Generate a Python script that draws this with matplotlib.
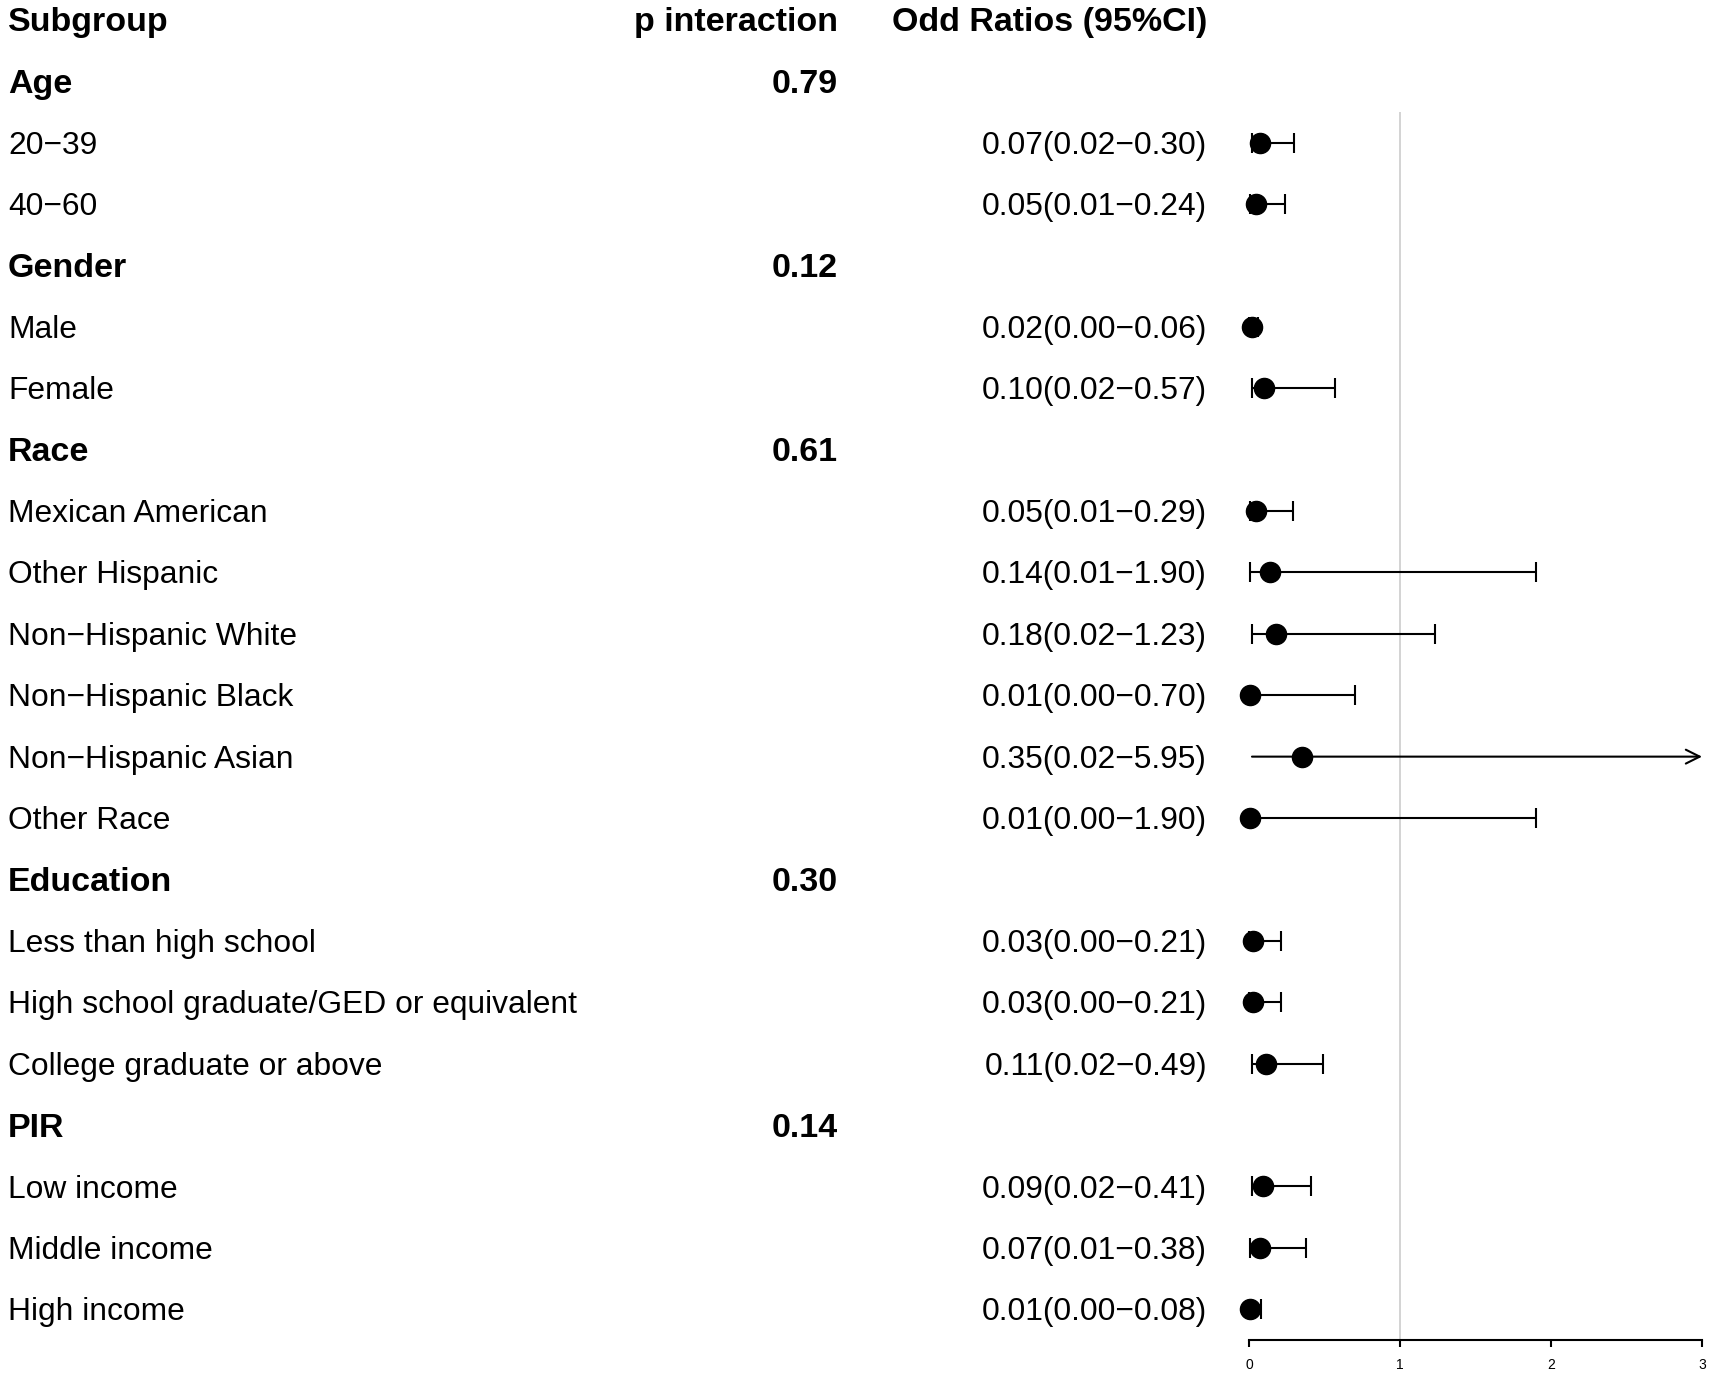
import matplotlib
matplotlib.use("Agg")
import matplotlib.pyplot as plt
from matplotlib.transforms import blended_transform_factory

plt.rcParams["font.family"] = ["Liberation Sans", "DejaVu Sans"]

# data
group_names = ["Age", "Gender", "Race", "Education", "PIR"]
p_interaction = ["0.79", "0.12", "0.61", "0.30", "0.14"]
sub_labels = [
    ["20\u221239", "40\u221260"],
    ["Male", "Female"],
    ["Mexican American", "Other Hispanic", "Non\u2212Hispanic White",
     "Non\u2212Hispanic Black", "Non\u2212Hispanic Asian", "Other Race"],
    ["Less than high school", "High school graduate/GED or equivalent",
     "College graduate or above"],
    ["Low income", "Middle income", "High income"],
]
odds = [[0.07, 0.05], [0.02, 0.10], [0.05, 0.14, 0.18, 0.01, 0.35, 0.01],
        [0.03, 0.03, 0.11], [0.09, 0.07, 0.01]]
ci_low = [[0.02, 0.01], [0.00, 0.02], [0.01, 0.01, 0.02, 0.00, 0.02, 0.00],
          [0.00, 0.00, 0.02], [0.02, 0.01, 0.00]]
ci_high = [[0.30, 0.24], [0.06, 0.57], [0.29, 1.90, 1.23, 0.70, 5.95, 1.90],
           [0.21, 0.21, 0.49], [0.41, 0.38, 0.08]]
x_ticks = [0, 1, 2, 3]

FS = 22.9   # plain text
FB = 24.5   # bold text
DY = 0.05   # small nudge so text sits like the reference
fig = plt.figure(figsize=(17.13, 13.79), dpi=100)
ax = fig.add_axes([0.7291, 0.02828, 0.2645, 0.8906])
ax.set_xlim(0, 3)
ax.set_ylim(21.5, 1.5)
tr = blended_transform_factory(fig.transFigure, ax.transData)

x_sub, x_p, x_or = 0.0047, 0.4892, 0.7046

# headers
ax.text(x_sub, DY, "Subgroup", transform=tr, fontsize=FB, fontweight="bold", va="center", ha="left")
ax.text(x_p, DY, "p interaction", transform=tr, fontsize=FB, fontweight="bold", va="center", ha="right")
ax.text(x_or, DY, "Odd Ratios (95%CI)", transform=tr, fontsize=FB, fontweight="bold", va="center", ha="right")

ax.axvline(1, color="#d0d0d0", lw=1.3, zorder=0)

row = 1
for g, name in enumerate(group_names):
    ax.text(x_sub, row + DY, name, transform=tr, fontsize=FB, fontweight="bold", va="center")
    ax.text(x_p, row + DY, p_interaction[g], transform=tr, fontsize=FB, fontweight="bold",
            va="center", ha="right")
    row += 1
    for i, lab in enumerate(sub_labels[g]):
        est, lo, hi = odds[g][i], ci_low[g][i], ci_high[g][i]
        ax.text(x_sub, row + DY, lab, transform=tr, fontsize=FS, va="center")
        ax.text(x_or, row + DY, f"{est:.2f}({lo:.2f}\u2212{hi:.2f})", transform=tr,
                fontsize=FS, va="center", ha="right")
        if hi > 3:
            ax.annotate("", xy=(3, row), xytext=(lo, row),
                        arrowprops=dict(arrowstyle="->", lw=1.5, color="black",
                                        mutation_scale=25, shrinkA=0, shrinkB=0),
                        annotation_clip=False)
            ax.plot(est, row, "o", color="black", ms=14.5, clip_on=False, zorder=3)
        else:
            ax.errorbar(est, row, xerr=[[est - lo], [hi - est]], fmt="o", color="black",
                        ms=14.5, capsize=7, elinewidth=1.5, capthick=1.5, clip_on=False, zorder=3)
        row += 1

for s in ["left", "top", "right"]:
    ax.spines[s].set_visible(False)
ax.spines["bottom"].set_linewidth(1.5)
ax.set_yticks([])
ax.set_xticks(x_ticks)
ax.tick_params(axis="x", length=5, width=1.5, labelsize=10, pad=8)

fig.savefig("out.png", dpi=100)
